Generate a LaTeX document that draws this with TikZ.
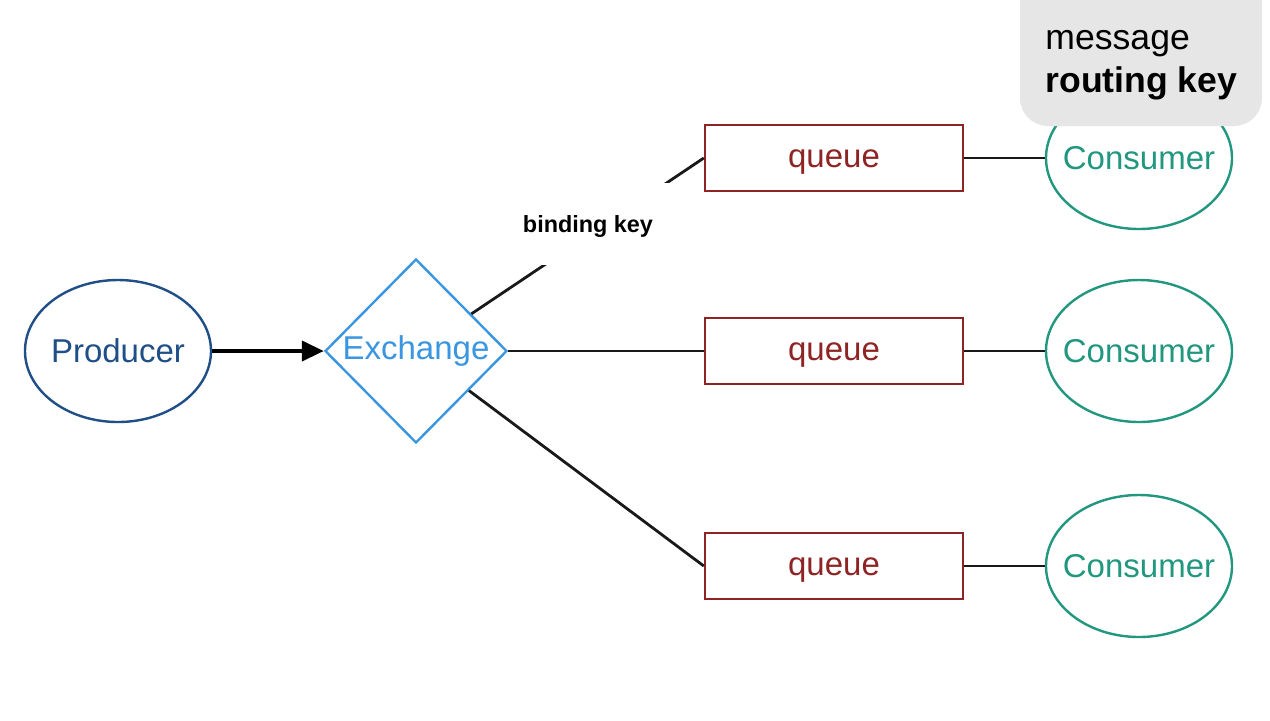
\documentclass[tikz,border=0pt]{standalone}
\usepackage{fontspec}
\setmainfont{Liberation Sans}
\usetikzlibrary{shapes.geometric,arrows.meta}
\definecolor{prodc}{HTML}{1F4F86}
\definecolor{exc}{HTML}{3A96E0}
\definecolor{qc}{HTML}{8E2424}
\definecolor{cc}{HTML}{22977F}
\definecolor{msgbg}{HTML}{E6E6E6}
\begin{document}
\begin{tikzpicture}[x=0.5pt,y=-0.5pt,
  mainfont/.style={font=\fontsize{16.5}{19}\selectfont},
  ell/.style={ellipse, draw, line width=1.2pt, minimum width=93pt, minimum height=71pt, inner sep=0pt},
  prodnode/.style={ell, draw=prodc, label={[text=prodc, mainfont]center:#1}},
  consnode/.style={ell, draw=cc, label={[text=cc, mainfont]center:#1}},
  xnode/.style={diamond, draw=exc, line width=1.2pt, minimum width=91pt, minimum height=92pt, inner sep=0pt},
  qbox/.style={rectangle, draw=qc, line width=1.2pt, minimum width=129pt, minimum height=33pt, inner sep=0pt, text=qc, text depth=0pt, text height=9pt, mainfont},
  link/.style={line width=1.4pt, black!90},
  keylabel/.style={fill=white, minimum width=85pt, minimum height=41pt, inner sep=0pt, text depth=0pt, font=\fontsize{11.7}{14}\selectfont\bfseries}
]
\useasboundingbox (0,0) rectangle (1270,720);
\clip (0,0) rectangle (1270,720);
\fill[white] (0,0) rectangle (1270,720);

\node[prodnode=Producer] (prod) at (118,351) {};
\node[xnode, label={[text=exc, mainfont]center:Exchange}] (ex) at (416,351) {};

\node[qbox] (q1) at (834,158) {queue};
\node[qbox] (q2) at (834,351) {queue};
\node[qbox] (q3) at (834,566) {queue};

\node[consnode=Consumer] (c1) at (1139,158) {};
\node[consnode=Consumer] (c2) at (1139,351) {};
\node[consnode=Consumer] (c3) at (1139,566) {};

\draw[line width=2pt, -{Triangle[length=11pt,width=10pt]}] (prod) -- (ex);
\draw[link] (ex) -- (q1.west);
\draw[link] (ex) -- (q2.west);
\draw[link] (ex) -- (q3.west);
\draw[link] (q1) -- (c1);
\draw[link] (q2) -- (c2);
\draw[link] (q3) -- (c3);

\node[keylabel] (bk) at (588,224) {binding key};

\fill[msgbg, rounded corners=14pt] (1020,-30) rectangle (1262,126);
\node[anchor=west, align=left, inner sep=0pt, font=\fontsize{17.8}{21.5}\selectfont] (msg) at (1045,65) {message\\\textbf{routing key}};
\end{tikzpicture}
\end{document}
